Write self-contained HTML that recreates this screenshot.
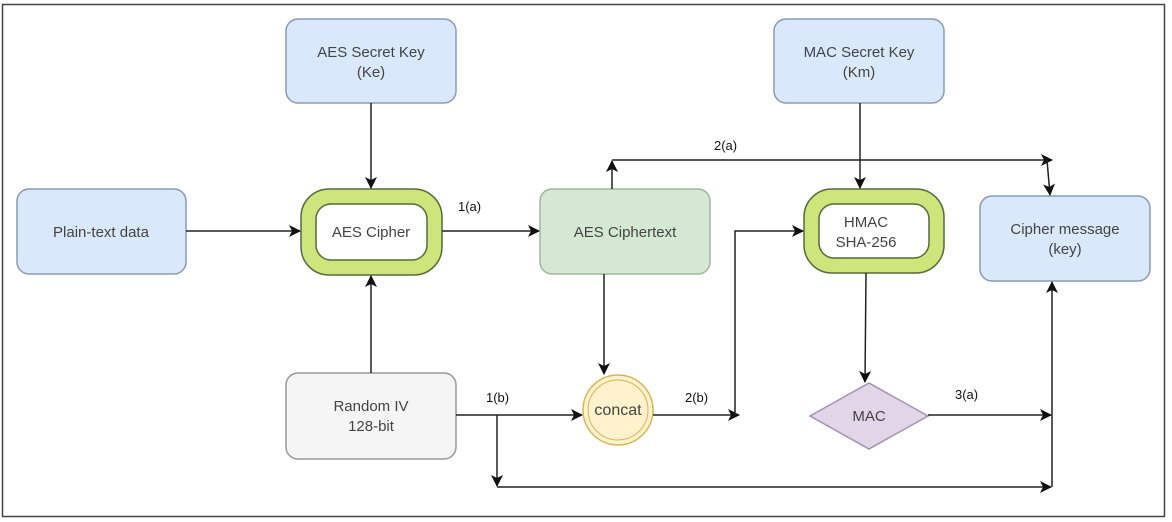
<!DOCTYPE html>
<html><head><meta charset="utf-8"><style>
html,body{margin:0;padding:0;background:#fff;width:1172px;height:522px;overflow:hidden}
svg text{font-family:"Liberation Sans",Arial,sans-serif;fill:#444;font-size:15px}
</style></head><body>
<svg width="1172" height="522" viewBox="0 0 1172 522" xmlns="http://www.w3.org/2000/svg">
<defs><marker id="a" markerWidth="12" markerHeight="12" refX="11" refY="6" orient="auto" markerUnits="userSpaceOnUse"><path d="M0,0 L12,6 L0,12 L3,6 Z" fill="#111"/></marker></defs>
<rect x="2.5" y="4.5" width="1162" height="512" fill="#fff" stroke="#444" stroke-width="1.5"/>
<g stroke="#8a9ab5" stroke-width="1.5" fill="#dae8fc">
<rect x="286" y="19" width="170" height="84" rx="12"/>
<rect x="774" y="19" width="170" height="84" rx="12"/>
<rect x="17" y="189" width="169" height="85" rx="12"/>
<rect x="980" y="196" width="170" height="85" rx="12"/>
</g>
<rect x="540" y="189" width="170" height="85" rx="12" fill="#d5e8d4" stroke="#9db89b" stroke-width="1.5"/>
<rect x="286" y="373" width="170" height="86" rx="12" fill="#f5f5f5" stroke="#999" stroke-width="1.5"/>
<rect x="301" y="189" width="141" height="86" rx="28" fill="#cde57a" stroke="#556b3a" stroke-width="1.5"/>
<rect x="316" y="204" width="111" height="56" rx="15" fill="#fff" stroke="#556b3a" stroke-width="1.5"/>
<rect x="804" y="189" width="140" height="84" rx="28" fill="#cde57a" stroke="#556b3a" stroke-width="1.5"/>
<rect x="819" y="204" width="110" height="54" rx="15" fill="#fff" stroke="#556b3a" stroke-width="1.5"/>
<circle cx="618" cy="410" r="35" fill="#fff2cc" stroke="#d6b656" stroke-width="1.5"/>
<circle cx="618" cy="410" r="30" fill="none" stroke="#d6b656" stroke-width="1"/>
<polygon points="810,416 869,383 928,416 869,449" fill="#e1d5e7" stroke="#a48fb5" stroke-width="1.5"/>
<g stroke="#222" stroke-width="1.5" fill="none" marker-end="url(#a)">
<line x1="371" y1="103" x2="371" y2="188"/>
<line x1="860" y1="103" x2="860" y2="188"/>
<line x1="186" y1="231" x2="300" y2="231"/>
<line x1="442" y1="231" x2="539" y2="231"/>
<line x1="371" y1="373" x2="371" y2="276"/>
<line x1="604" y1="274" x2="604" y2="374"/>
<line x1="612" y1="189" x2="612" y2="161"/>
<polyline points="612,160 1052,160"/>
<polyline points="1047,160 1050,195"/>
<polyline points="653,415 739,415"/>
<polyline points="735,415 735,231 803,231"/>
<line x1="866" y1="273" x2="865" y2="382"/>
<line x1="928" y1="415" x2="1051" y2="415"/>
<line x1="456" y1="415" x2="582" y2="415"/>
<polyline points="497,415 497,486"/>
<polyline points="497,487 1051,487"/>
<line x1="1052" y1="487" x2="1052" y2="282"/>
</g>
<g text-anchor="middle">
<text x="371" y="57">AES Secret Key</text><text x="371" y="77">(Ke)</text>
<text x="859" y="57">MAC Secret Key</text><text x="859" y="77">(Km)</text>
<text x="101" y="237">Plain-text data</text>
<text x="371" y="237">AES Cipher</text>
<text x="625" y="237">AES Ciphertext</text>
<text x="866" y="227">HMAC</text><text x="866" y="247">SHA-256</text>
<text x="1065" y="234">Cipher message</text><text x="1065" y="254">(key)</text>
<text x="371" y="411">Random IV</text><text x="371" y="431">128-bit</text>
<text x="618" y="415" style="font-size:16px">concat</text>
<text x="869" y="421">MAC</text>
</g>
<g>
<text x="458" y="211" style="font-size:13px;fill:#111">1(a)</text>
<text x="714" y="150" style="font-size:13px;fill:#111">2(a)</text>
<text x="486" y="402" style="font-size:13px;fill:#111">1(b)</text>
<text x="685" y="402" style="font-size:13px;fill:#111">2(b)</text>
<text x="955" y="399" style="font-size:13px;fill:#111">3(a)</text>
</g>
</svg>
</body></html>
